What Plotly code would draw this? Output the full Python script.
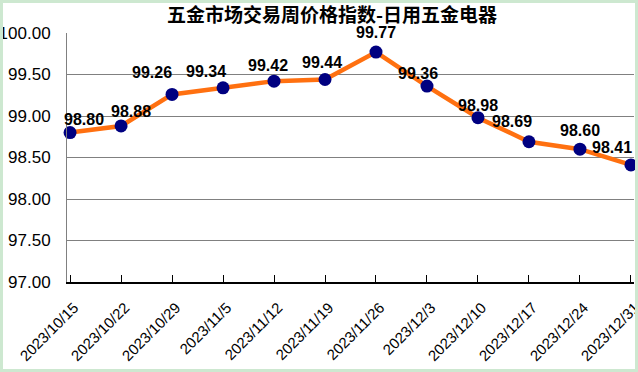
import plotly.graph_objects as go

categories = ["2023/10/15", "2023/10/22", "2023/10/29", "2023/11/5", "2023/11/12",
              "2023/11/19", "2023/11/26", "2023/12/3", "2023/12/10", "2023/12/17",
              "2023/12/24", "2023/12/31"]
index_values = [98.80, 98.88, 99.26, 99.34, 99.42, 99.44, 99.77, 99.36, 98.98, 98.69, 98.60, 98.41]
y_ticks = [97.0, 97.5, 98.0, 98.5, 99.0, 99.5, 100.0]
title_text = "五金市场交易周价格指数-日用五金电器"

# label offsets (pixels) as placed in the original chart
label_dx = [14, 10, -20, -17, -6, -3, 0, -9, 0, -17, 0, -19]
label_dy = [-13, -14, -22, -16, -16, -17, -20, -13, -12, -20, -19, -17]

W, H = 638, 372
L, R, T, B = 67, 4, 33, 90
pw, ph = W - L - R, H - T - B

xpos = list(range(len(categories)))

fig = go.Figure()
fig.add_trace(go.Scatter(
    x=xpos, y=index_values, mode="lines+markers",
    line=dict(color="#FF7010", width=4.5),
    marker=dict(color="#000080", size=13),
    hoverinfo="skip", showlegend=False, cliponaxis=False,
))

for i, v in enumerate(index_values):
    fig.add_annotation(
        x=xpos[i], y=v, text="<b>%.2f</b>" % v, showarrow=False,
        xshift=label_dx[i], yshift=-label_dy[i],
        font=dict(family="Liberation Sans, Arial", size=16, color="black"),
        xanchor="center", yanchor="middle",
    )

# light green border outside the white chart area
fig.add_shape(type="rect", xref="paper", yref="paper",
              x0=-L / pw, x1=(W - L) / pw, y0=-B / ph, y1=(H - B) / ph,
              line=dict(color="#CDE8D0", width=6), fillcolor="rgba(0,0,0,0)", layer="above")

fig.update_layout(
    width=W, height=H,
    margin=dict(l=L, r=R, t=T, b=B, pad=0, autoexpand=False),
    paper_bgcolor="white", plot_bgcolor="white",
    title=dict(text="<b>" + title_text + "</b>", x=332 / W, xanchor="center",
               y=1 - 15 / H, yanchor="middle",
               font=dict(family="Noto Sans CJK SC", size=19, color="black")),
    xaxis=dict(
        range=[-0.06, len(categories) - 1 + 0.06], automargin=False,
        tickmode="array", tickvals=xpos, ticktext=categories, tickangle=-45,
        ticks="inside", ticklen=7, tickcolor="black", tickwidth=1,
        ticklabelstandoff=9, ticklabelshift=4, ticklabeloverflow="allow",
        showline=True, linecolor="black", linewidth=2,
        showgrid=False, zeroline=False,
        tickfont=dict(family="Liberation Sans, Arial", size=15, color="black"),
    ),
    yaxis=dict(
        range=[97.0, 100.0], tickmode="array", tickvals=y_ticks, automargin=False,
        ticktext=["%.2f" % t for t in y_ticks],
        showgrid=True, gridcolor="#808080", gridwidth=1,
        showline=True, linecolor="#808080", linewidth=1,
        zeroline=False, ticks="", ticklabelstandoff=12,
        tickfont=dict(family="Liberation Sans, Arial", size=17, color="black"),
    ),
)

fig.write_html("out.html", config={"displayModeBar": False},
               post_script="document.body.style.margin='0';document.body.style.padding='0';document.body.style.overflow='hidden';")
